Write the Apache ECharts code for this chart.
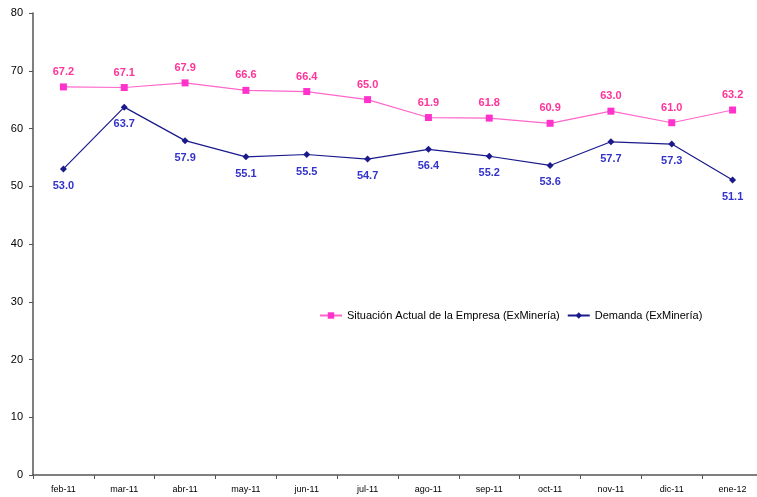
<!DOCTYPE html>
<html><head><meta charset="utf-8">
<script src="https://cdn.jsdelivr.net/npm/echarts@6/dist/echarts.min.js"></script>
<style>html,body{margin:0;background:#fff}#c{width:757px;height:497px}</style>
</head><body><div id="c"></div>
<script>
const months = ["feb-11","mar-11","abr-11","may-11","jun-11","jul-11","ago-11","sep-11","oct-11","nov-11","dic-11","ene-12"];
const situacion = [67.2,67.1,67.9,66.6,66.4,65.0,61.9,61.8,60.9,63.0,61.0,63.2];
const demanda = [53.0,63.7,57.9,55.1,55.5,54.7,56.4,55.2,53.6,57.7,57.3,51.1];

const chart = echarts.init(document.getElementById("c"));
const font = "Liberation Sans, Arial, sans-serif";
chart.setOption({
  animation: false,
  grid: { left: 33, top: 13, width: 730, height: 462, outerBoundsMode: "none", containLabel: false },
  legend: {
    left: 314, top: 305, itemGap: 7, itemWidth: 22, itemHeight: 8,
    textStyle: { fontFamily: font, fontSize: 11, color: "#000" },
    data: ["Situación Actual de la Empresa (ExMinería)", "Demanda (ExMinería)"]
  },
  xAxis: {
    type: "category", data: months, boundaryGap: true,
    axisLine: { lineStyle: { color: "#555", width: 1.5 } },
    axisTick: { show: true, length: 4, lineStyle: { color: "#555" } },
    axisLabel: { fontFamily: font, fontSize: 9, color: "#000", margin: 10 }
  },
  yAxis: {
    type: "value", min: 0, max: 80, interval: 10,
    splitLine: { show: false },
    axisLine: { show: true, lineStyle: { color: "#555", width: 1.5 } },
    axisTick: { show: true, length: 4, lineStyle: { color: "#555" } },
    axisLabel: { fontFamily: font, fontSize: 11, color: "#000", margin: 10 }
  },
  series: [
    {
      name: "Situación Actual de la Empresa (ExMinería)", type: "line", data: situacion,
      symbol: "rect", symbolSize: 7,
      lineStyle: { color: "#ff66cc", width: 1.2 },
      itemStyle: { color: "#ff33cc" },
      label: { show: true, position: "top", distance: 6, formatter: p => p.value.toFixed(1),
        color: "#ff3399", fontFamily: font, fontSize: 11, fontWeight: "bold" }
    },
    {
      name: "Demanda (ExMinería)", type: "line", data: demanda,
      symbol: "diamond", symbolSize: 7,
      lineStyle: { color: "#1a1a8c", width: 1.2 },
      itemStyle: { color: "#1a1a8c" },
      label: { show: true, position: "bottom", distance: 8, formatter: p => p.value.toFixed(1),
        color: "#3333cc", fontFamily: font, fontSize: 11, fontWeight: "bold" }
    }
  ]
});
</script></body></html>
